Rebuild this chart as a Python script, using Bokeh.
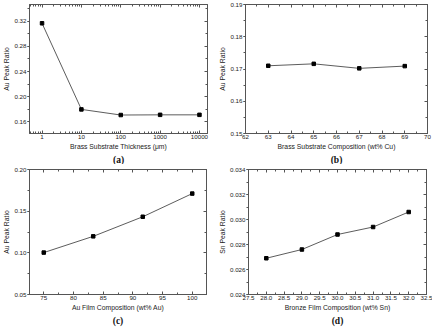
from bokeh.plotting import figure
from bokeh.layouts import column, row
from bokeh.models import (Range1d, LinearAxis, LogAxis, FixedTicker, SingleIntervalTicker,
                          NumeralTickFormatter, Title)
from bokeh.embed import file_html
from bokeh.resources import INLINE

# ---- data ----
a_x = [1, 10, 100, 1000, 10000]
a_y = [0.317, 0.1795, 0.1705, 0.1708, 0.1708]
b_x = [63, 65, 67, 69]
b_y = [0.1710, 0.1716, 0.1702, 0.1709]
c_x = [75, 83.33, 91.67, 100]
c_y = [0.1003, 0.1198, 0.1433, 0.1711]
d_x = [28, 29, 30, 31, 32]
d_y = [0.0269, 0.0276, 0.0288, 0.0294, 0.0306]

a_xticks = [1, 10, 100, 1000, 10000]
a_xlabels = ["1", "10", "100", "1000", "10000"]

FONT = "Liberation Sans"
TICK_FS = "6.2px"
LAB_FS = "6.8px"
LINE_C = "#4a4a4a"
AX_C = "#555555"
TXT_C = "#222222"


def style_axis(ax, labels=True, tin=3, tout=0):
    ax.major_tick_in = tin
    ax.major_tick_out = tout
    ax.minor_tick_in = 2 if tin else 0
    ax.minor_tick_out = 2 if tout else 0
    ax.axis_line_color = AX_C
    ax.major_tick_line_color = AX_C
    ax.minor_tick_line_color = AX_C
    ax.major_label_text_font = FONT
    ax.major_label_text_font_size = TICK_FS
    ax.major_label_text_color = TXT_C
    ax.major_label_text_line_height = 1.0
    ax.axis_label_text_font = FONT
    ax.axis_label_text_font_size = LAB_FS
    ax.axis_label_text_font_style = "normal"
    ax.axis_label_text_color = TXT_C
    ax.axis_label_text_line_height = 1.0
    ax.axis_label_standoff = 1
    ax.major_label_standoff = 1
    if not labels:
        ax.major_label_text_font_size = "1px"
        ax.major_label_text_alpha = 0
        ax.major_label_standoff = 0


def make(xr, yr, xs, ys, xlabel, ylabel, tag, xlog=False, xtick=None, ytick=None,
         xfmt="0", yfmt="0.00", mb=(4, 9, 26, 30)):
    top, right, left, bottom = mb
    p = figure(width=216, height=164, x_axis_type="log" if xlog else "linear",
               x_range=Range1d(*xr), y_range=Range1d(*yr),
               output_backend="svg", toolbar_location=None,
               min_border_top=top, min_border_right=right, min_border_left=left,
               min_border_bottom=bottom)
    p.grid.visible = False
    p.outline_line_color = AX_C
    p.background_fill_color = "white"
    p.border_fill_color = "white"
    p.line(xs, ys, line_color=LINE_C, line_width=0.9)
    p.scatter(xs, ys, marker="square", size=3.5, color="black")

    if xlog:
        minors = [m * 10 ** k for k in range(-1, 5) for m in range(2, 10)]
        tk = FixedTicker(ticks=a_xticks, minor_ticks=minors)
        p.xaxis.ticker = tk
        p.xaxis.major_label_overrides = {t: l for t, l in zip(a_xticks, a_xlabels)}
        top_ax = LogAxis(ticker=tk)
    else:
        tk = SingleIntervalTicker(interval=xtick, num_minor_ticks=2)
        p.xaxis.ticker = tk
        p.xaxis.formatter = NumeralTickFormatter(format=xfmt)
        top_ax = LinearAxis(ticker=tk)
    ytk = SingleIntervalTicker(interval=ytick, num_minor_ticks=2)
    p.yaxis.ticker = ytk
    p.yaxis.formatter = NumeralTickFormatter(format=yfmt)
    right_ax = LinearAxis(ticker=ytk)

    p.xaxis.axis_label = xlabel
    p.yaxis.axis_label = ylabel
    style_axis(p.xaxis[0], tin=3, tout=0)
    style_axis(p.yaxis[0], tin=0, tout=2)
    style_axis(top_ax, labels=False, tin=3, tout=0)
    style_axis(right_ax, labels=False, tin=3, tout=0)
    p.add_layout(top_ax, "above")
    p.add_layout(right_ax, "right")
    t = Title(text=tag, align="center", text_font="Liberation Serif",
              text_font_size="9.5px", text_font_style="bold", text_color="#111111",
              text_line_height=1.0, standoff=0, offset=0)
    p.add_layout(t, "below")
    return p


pa = make((0.48, 16000), (0.141, 0.347), a_x, a_y, "Brass Substrate Thickness (\u03bcm)",
          "Au Peak Ratio", "(a)", xlog=True, ytick=0.04, yfmt="0.00", mb=(4, 9, 25, 30))
pb = make((62, 70), (0.15, 0.19), b_x, b_y, "Brass Substrate Composition (wt% Cu)",
          "Au Peak Ratio", "(b)", xtick=1, ytick=0.01, yfmt="0.00", mb=(3, 5, 29, 29))
pc = make((72.6, 102.4), (0.05, 0.20), c_x, c_y, "Au Film Composition (wt% Au)",
          "Au Peak Ratio", "(c)", xtick=5, ytick=0.05, yfmt="0.00", mb=(4, 10, 26, 33))
pd_ = make((27.5, 32.5), (0.024, 0.034), d_x, d_y, "Bronze Film Composition (wt% Sn)",
           "Sn Peak Ratio", "(d)", xtick=0.5, ytick=0.002, xfmt="0.0", yfmt="0.000",
           mb=(5, 6, 29, 34))

layout = column(row(pa, pb), row(pc, pd_))
open("out.html", "w").write(file_html(layout, INLINE))
